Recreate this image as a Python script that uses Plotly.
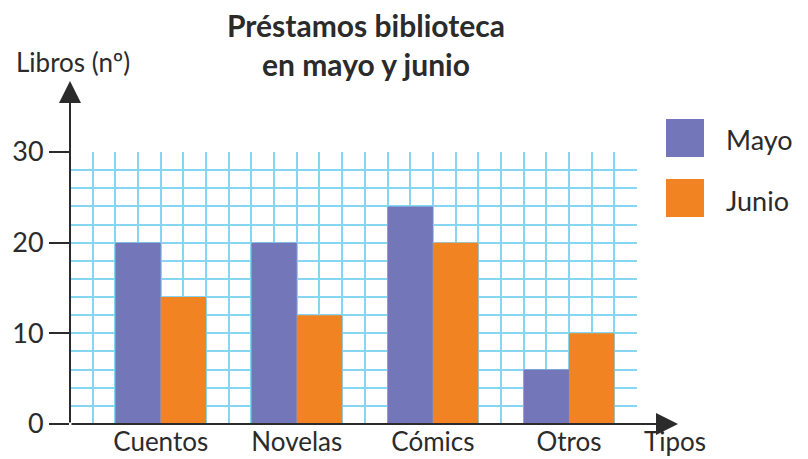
import plotly.graph_objects as go

# Library loans data
tipos = ["Cuentos", "Novelas", "Cómics", "Otros"]
tipo_pos = [4, 10, 16, 22]
mayo = [20, 20, 24, 6]
junio = [14, 12, 20, 10]
y_ticks = [0, 10, 20, 30]

color_mayo = "#7376b8"
color_junio = "#f28322"
grid_color = "#85d6f2"
ink = "#2b2b2b"
font_name = "Lato"

# the page body has an 8px margin, so shift everything back by it
OFF = 8
W, H = 808, 459
# plot area as seen in the picture (pixels)
px_left, px_right, px_top, px_bottom = 70, 637, 152, 424
L, T = px_left - OFF, px_top - OFF
R, B = W - (px_right - OFF), H - (px_bottom - OFF)
pw, ph = px_right - px_left, px_bottom - px_top


def px_x(x):
    return (x - px_left) / pw


def px_y(y):
    return (px_bottom - y) / ph


fig = go.Figure()

fig.add_trace(go.Bar(
    x=tipo_pos, y=mayo, name="Mayo", width=2, offset=-2,
    marker=dict(color=color_mayo, line=dict(width=0)),
    showlegend=False
))
fig.add_trace(go.Bar(
    x=tipo_pos, y=junio, name="Junio", width=2, offset=0,
    marker=dict(color=color_junio, line=dict(width=0)),
    showlegend=False
))

fig.update_layout(
    width=W, height=H,
    margin=dict(l=L, r=R, t=T, b=B),
    plot_bgcolor="white", paper_bgcolor="white",
    barmode="overlay",
    font=dict(family=font_name, color=ink, size=24),
)

fig.update_xaxes(
    range=[0, 25], tickvals=tipo_pos, ticktext=tipos,
    showgrid=True, gridcolor=grid_color, gridwidth=2,
    minor=dict(dtick=1, tick0=0, showgrid=True, gridcolor=grid_color, gridwidth=2),
    zeroline=False, showline=False, ticks="", automargin=False,
    tickfont=dict(size=26, color=ink),
)
fig.update_yaxes(
    range=[0, 30], tickvals=y_ticks,
    showgrid=True, gridcolor=grid_color, gridwidth=2,
    minor=dict(dtick=2, tick0=0, showgrid=True, gridcolor=grid_color, gridwidth=2),
    zeroline=False, showline=False, automargin=False,
    ticks="outside", ticklen=20, tickwidth=1.5, tickcolor=ink,
    tickfont=dict(size=27, color=ink),
)

# axis arrows
fig.add_annotation(
    x=0, y=px_y(81), xref="paper", yref="paper", text="",
    showarrow=True, ax=0, ay=px_bottom - 81,
    arrowhead=2, arrowsize=2.2, arrowwidth=2, arrowcolor=ink, standoff=0,
)
fig.add_annotation(
    x=px_x(678), y=0, xref="paper", yref="paper", text="",
    showarrow=True, ax=-(678 - px_left), ay=0,
    arrowhead=2, arrowsize=2.2, arrowwidth=2, arrowcolor=ink, standoff=0,
)

# titles and axis names
fig.add_annotation(
    x=px_x(366), y=px_y(44), xref="paper", yref="paper",
    text="<b>Préstamos biblioteca<br>en mayo y junio</b>",
    showarrow=False, font=dict(size=30, color=ink),
    xanchor="center", yanchor="middle",
)
fig.add_annotation(
    x=px_x(14), y=px_y(62), xref="paper", yref="paper",
    text="Libros (nº)", showarrow=False, font=dict(size=26, color=ink),
    xanchor="left", yanchor="middle",
)
fig.add_annotation(
    x=px_x(642), y=px_y(441), xref="paper", yref="paper",
    text="Tipos", showarrow=False, font=dict(size=26, color=ink),
    xanchor="left", yanchor="middle",
)

# legend boxes
for name, col, top in [("Mayo", color_mayo, 119), ("Junio", color_junio, 179)]:
    fig.add_shape(
        type="rect", xref="paper", yref="paper",
        x0=px_x(666), x1=px_x(704), y0=px_y(top + 38), y1=px_y(top),
        fillcolor=col, line=dict(width=0),
    )
    fig.add_annotation(
        x=px_x(724), y=px_y(top + 21), xref="paper", yref="paper",
        text=name, showarrow=False, font=dict(size=27, color=ink),
        xanchor="left", yanchor="middle",
    )

fig.write_html("out.html")
